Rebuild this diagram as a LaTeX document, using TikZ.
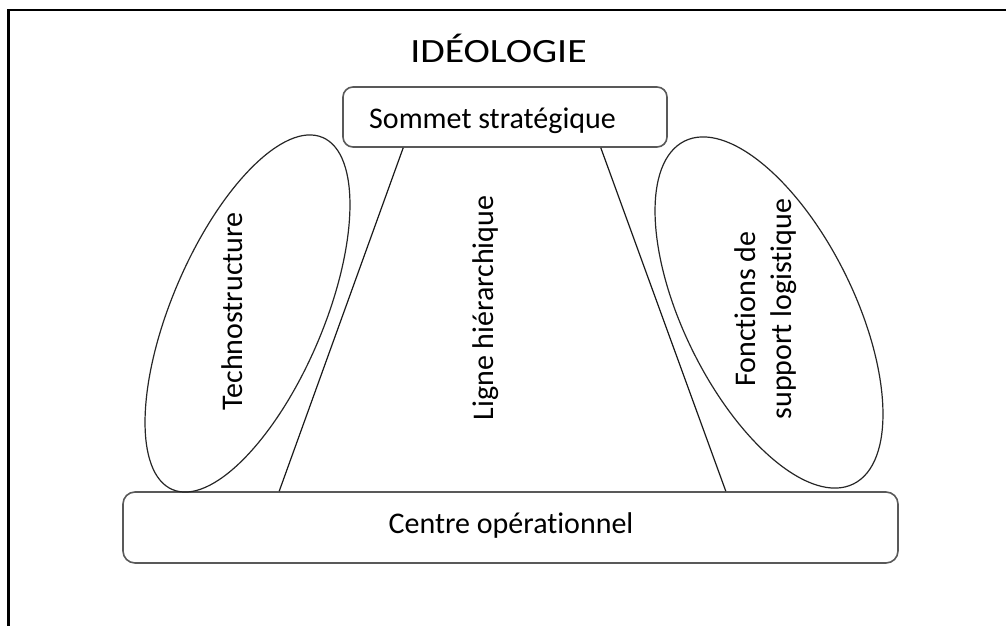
\documentclass[tikz,border=0pt]{standalone}
\usepackage{fontspec}
\setmainfont{Carlito}[Ligatures={NoCommon}]
\usetikzlibrary{calc}
\begin{document}
\begin{tikzpicture}[x=1pt,y=-1pt,
  boxstyle/.style={draw=black!65, line width=1.6pt, rounded corners=11pt, inner sep=0pt},
  ellstyle/.style={draw=black!85, line width=1.2pt},
  linkstyle/.style={draw=black!90, line width=1.2pt},
  txt/.style={font=\fontsize{30}{36}\selectfont, text=black, inner sep=0pt}
]
\useasboundingbox (0,0) rectangle (1006,626);
% frame
\draw[line width=2pt] (7,10.5) -- (1006,10.5);
\draw[line width=2.5pt] (8.25,10) -- (8.25,626);
% title
\node[txt, anchor=base, font=\fontsize{34}{40}\selectfont] (titre) at (498.5,63) {\scalebox{1.17}[1]{IDÉOLOGIE}};
% boxes
\node[boxstyle, minimum width=324pt, minimum height=60pt, rounded corners=10pt] (sommet) at (505,117) {};
\node[txt, anchor=base] (sommettxt) at (492.5,128) {Sommet stratégique};
\node[boxstyle, minimum width=775pt, minimum height=71pt, rounded corners=12pt] (centre) at (510.5,527.5) {};
\node[txt, anchor=base] (centretxt) at (511,533) {Centre opérationnel};
% ellipses
\draw[ellstyle, rotate around={-23.1:(247.5,313.5)}] (247.5,313.5) ellipse [x radius=75.8pt, y radius=191.4pt];
\draw[ellstyle, rotate around={26.2:(769,312.5)}] (769,312.5) ellipse [x radius=85.4pt, y radius=191.1pt];
% lines
\draw[linkstyle] ([xshift=61pt]sommet.south west) -- ([xshift=157pt]centre.north west);
\draw[linkstyle] ([xshift=-67pt]sommet.south east) -- ([xshift=-173pt]centre.north east);
% rotated texts
\node[txt, anchor=base, rotate=90] (techno) at (242,311.5) {Technostructure};
\node[txt, anchor=base, rotate=90] (ligne) at (493,308) {Ligne hiérarchique};
\node[txt, rotate=90, align=center] (fonctions) at (765.5,309) {Fonctions de\\support logistique};
\end{tikzpicture}
\end{document}
